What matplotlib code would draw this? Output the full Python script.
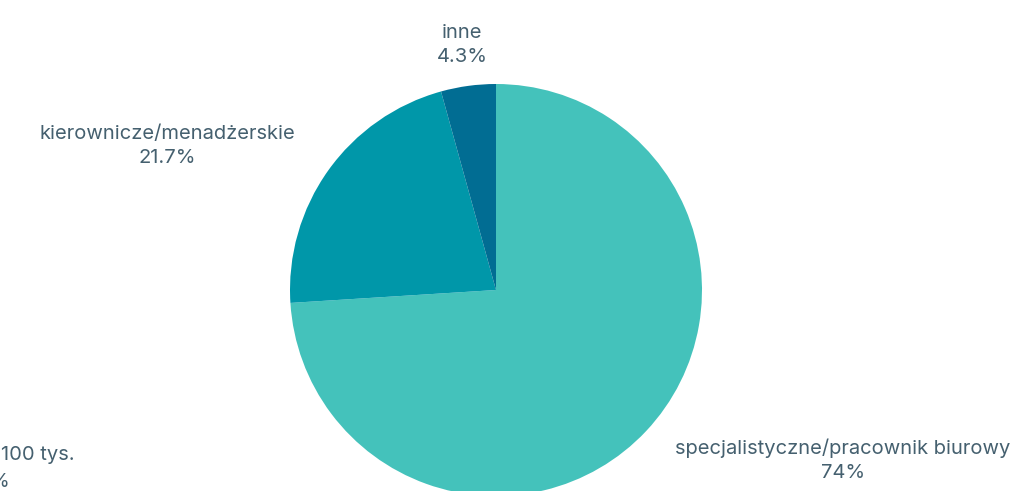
import matplotlib
matplotlib.use("Agg")
import matplotlib.pyplot as plt

categories = ["specjalistyczne/pracownik biurowy", "kierownicze/menadżerskie", "inne"]
values = [74, 21.7, 4.3]
colors = ["#44c2bb", "#0097a9", "#016d93"]

W, H = 1014, 491
fig = plt.figure(figsize=(W / 100, H / 100), dpi=100)
ax = fig.add_axes([0, 0, 1, 1])

cx, cy, r = 496, 290, 206
ax.pie(values, colors=colors, startangle=90, counterclock=False,
       center=(cx, H - cy), radius=r, wedgeprops=dict(linewidth=0))
ax.set_xlim(0, W)
ax.set_ylim(0, H)
ax.set_aspect("auto")
ax.axis("off")

txt_color = "#45606f"
font = ["Inter", "DejaVu Sans"]
fs = 14.5
label_pos = [(843, 460), (167, 146), (462, 45)]
for cat, v, (x, y) in zip(categories, values, label_pos):
    ax.text(x, H - y, f"{cat}\n{v:g}%", ha="center", va="center",
            fontsize=fs, color=txt_color, family=font, linespacing=1.42)

# partially visible label of a neighbouring chart at the lower-left edge
ax.text(1, H - 455, "100 tys.", ha="left", va="center",
        fontsize=fs, color=txt_color, family=font)
ax.text(-10, H - 482, "%", ha="left", va="center",
        fontsize=fs, color=txt_color, family=font)

fig.savefig("out.png", dpi=100)
